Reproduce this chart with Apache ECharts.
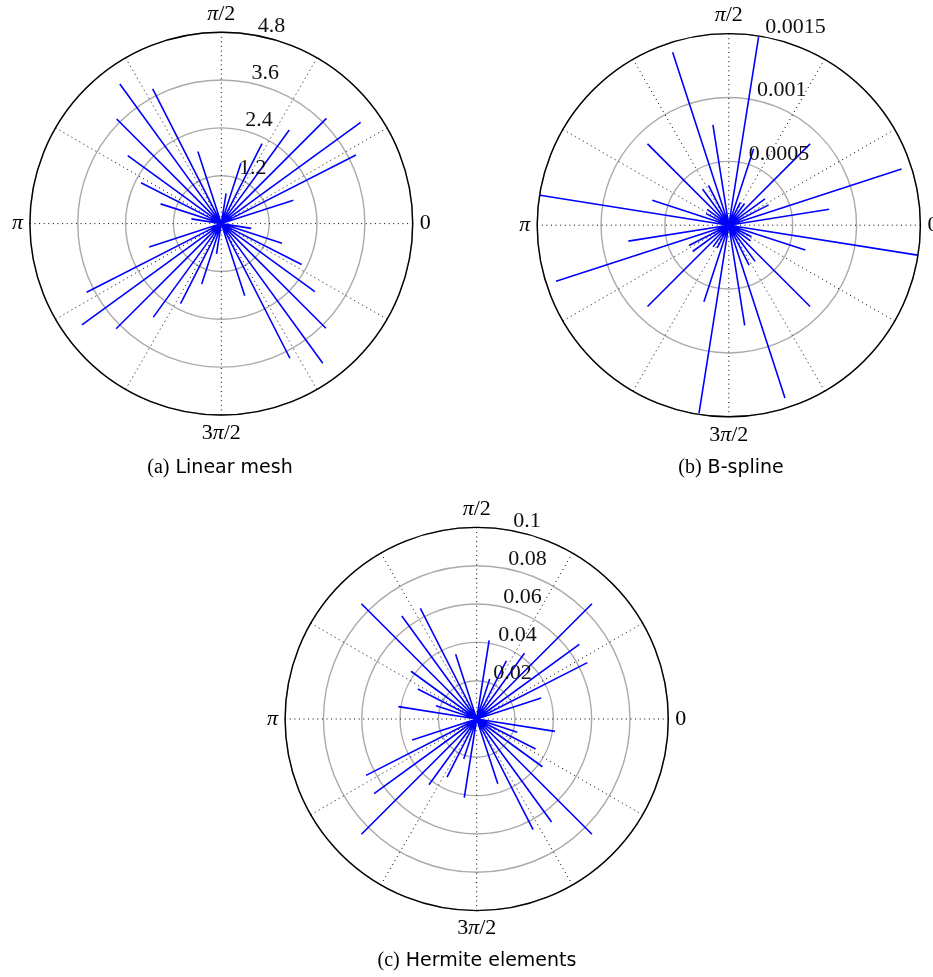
<!DOCTYPE html>
<html><head><meta charset="utf-8">
<script src="https://cdn.jsdelivr.net/npm/echarts@6/dist/echarts.min.js"></script>
<style>html,body{margin:0;padding:0;background:#fff}#c{width:933px;height:977px}</style>
</head><body><div id="c"></div>
<script>
// ---- angle axis ticks (degrees) and their labels ----
const angleTickValues = [0, 90, 180, 270];
const angleTickLabels = ['0', 'π/2', 'π', '3π/2'];

// ---- (a) Linear mesh ----
const meshAngles = [18, 27, 36, 45, 54, 63, 72, 81, 108, 117, 126, 135, 144, 153, 162, 171,
                    198, 207, 216, 225, 234, 243, 252, 261, 288, 297, 306, 315, 324, 333, 342, 351];
const meshRadii  = [1.90, 3.79, 4.32, 3.73, 2.90, 2.25, 1.59, 0.77, 1.90, 3.79, 4.33, 3.71, 2.90, 2.26, 1.60, 0.76,
                    1.90, 3.79, 4.32, 3.73, 2.90, 2.25, 1.59, 0.77, 1.90, 3.79, 4.33, 3.71, 2.90, 2.26, 1.60, 0.76];
const meshRadiusTicks  = [1.2, 2.4, 3.6, 4.8];
const meshRadiusLabels = ['1.2', '2.4', '3.6', '4.8'];

// ---- (b) B-spline ----
const bsplineAngles = [9, 18, 27, 36, 45, 54, 63, 72, 81, 99, 108, 117, 126, 135, 144, 153, 162, 171,
                       189, 198, 207, 216, 225, 234, 243, 252, 261, 279, 288, 297, 306, 315, 324, 333, 342, 351];
const bsplineRadii  = [0.000796, 0.001422, 0.00035, 0.00035, 0.0009, 0.00021, 0.0002, 0.00063, 0.00149,
                       0.000795, 0.001423, 0.00035, 0.00035, 0.0009, 0.00021, 0.0002, 0.00063, 0.001496,
                       0.000796, 0.001422, 0.00035, 0.00035, 0.0009, 0.00021, 0.0002, 0.00063, 0.00149,
                       0.000795, 0.001423, 0.00035, 0.00035, 0.0009, 0.00021, 0.0002, 0.00063, 0.001496];
const bsplineRadiusTicks  = [0.0005, 0.001, 0.0015];
const bsplineRadiusLabels = ['0.0005', '0.001', '0.0015'];

// ---- (c) Hermite elements ----
const hermiteAngles = [18, 27, 36, 45, 54, 63, 72, 81, 108, 117, 126, 135, 144, 153, 162, 171,
                       198, 207, 216, 225, 234, 243, 252, 261, 288, 297, 306, 315, 324, 333, 342, 351];
const hermiteRadii  = [0.0354, 0.0648, 0.0662, 0.0851, 0.0424, 0.0341, 0.0219, 0.0415,
                       0.0356, 0.0648, 0.0665, 0.0851, 0.0424, 0.0345, 0.0223, 0.0414,
                       0.0354, 0.0648, 0.0662, 0.0851, 0.0424, 0.0341, 0.0219, 0.0415,
                       0.0356, 0.0648, 0.0665, 0.0851, 0.0424, 0.0345, 0.0223, 0.0414];
const hermiteRadiusTicks  = [0.02, 0.04, 0.06, 0.08, 0.1];
const hermiteRadiusLabels = ['0.02', '0.04', '0.06', '0.08', '0.1'];

const captions = [
  ['(a)', 'Linear mesh'],
  ['(b)', 'B-spline'],
  ['(c)', 'Hermite elements']
];

// ---- layout / style ----
const SERIF = '"Liberation Serif", "DejaVu Serif", serif';
const SANS = '"DejaVu Sans", sans-serif';
const LABEL_ANGLE = 82.5;
const panels = [
  { center: [221.3, 223.6], radius: 191.4, max: 4.8, interval: 1.2, angles: meshAngles, radii: meshRadii, ticks: meshRadiusTicks, labels: meshRadiusLabels, cap: [220, 468] },
  { center: [728.8, 225.2], radius: 191.6, max: 0.0015, interval: 0.0005, angles: bsplineAngles, radii: bsplineRadii, ticks: bsplineRadiusTicks, labels: bsplineRadiusLabels, cap: [731, 468] },
  { center: [476.7, 719.0], radius: 191.6, max: 0.1, interval: 0.02, angles: hermiteAngles, radii: hermiteRadii, ticks: hermiteRadiusTicks, labels: hermiteRadiusLabels, cap: [477, 961] }
];

function spokeData(angles, radii) {
  const d = [];
  angles.forEach((a, i) => { d.push([0, a]); d.push([radii[i], a]); d.push(['-', '-']); });
  return d;
}

const option = {
  animation: false,
  backgroundColor: '#fff',
  polar: panels.map(p => ({ center: p.center, radius: [0, p.radius] })),
  angleAxis: panels.map((p, i) => ({
    polarIndex: i, type: 'value', min: 0, max: 360, interval: 30,
    startAngle: 0, clockwise: false, z: 1,
    axisLine: { show: true, lineStyle: { color: '#000', width: 1.4 } },
    axisTick: { show: false },
    splitLine: { show: true, lineStyle: { color: '#000', width: 1, type: [1, 3.6] } },
    axisLabel: {
      show: true, margin: 7, color: '#000', fontFamily: SERIF, fontSize: 22,
      formatter: v => { const k = angleTickValues.indexOf(v); return k < 0 ? '' : angleTickLabels[k].replace('π', '{m|π}'); },
      rich: { m: { fontFamily: SERIF, fontSize: 22, fontStyle: 'italic', color: '#000' } }
    }
  })),
  radiusAxis: panels.map((p, i) => ({
    polarIndex: i, type: 'value', min: 0, max: p.max, interval: p.interval, z: 0,
    axisLine: { show: false }, axisTick: { show: false }, axisLabel: { show: false },
    splitLine: { show: true, lineStyle: { color: '#aaaaaa', width: 1.4 } }
  })),
  series: panels.flatMap((p, i) => [
    {
      type: 'line', coordinateSystem: 'polar', polarIndex: i, z: 3,
      data: spokeData(p.angles, p.radii), showSymbol: false, symbol: 'none',
      connectNulls: false, clip: false, silent: true,
      lineStyle: { color: '#0000ff', width: 1.6 }
    },
    {
      type: 'scatter', coordinateSystem: 'polar', polarIndex: i, z: 4, silent: true,
      symbolSize: 1, itemStyle: { color: 'transparent', opacity: 1 },
      data: p.ticks.map(t => [t, LABEL_ANGLE]),
      label: {
        show: true, position: 'right', distance: 11, offset: [0, -8], opacity: 1,
        fontFamily: SERIF, fontSize: 22, color: '#111',
        formatter: params => p.labels[params.dataIndex]
      }
    }
  ]),
  graphic: panels.map((p, i) => ({
    type: 'text', x: p.cap[0], y: p.cap[1], silent: true,
    style: {
      text: '{s|' + captions[i][0] + '}{t| ' + captions[i][1] + '}',
      align: 'center', verticalAlign: 'middle', fill: '#000',
      rich: {
        s: { fontFamily: SERIF, fontSize: 20, fill: '#000' },
        t: { fontFamily: SANS, fontSize: 19, fill: '#000' }
      }
    }
  }))
};

const chart = echarts.init(document.getElementById('c'), null, { renderer: 'canvas' });
chart.setOption(option);
</script></body></html>
